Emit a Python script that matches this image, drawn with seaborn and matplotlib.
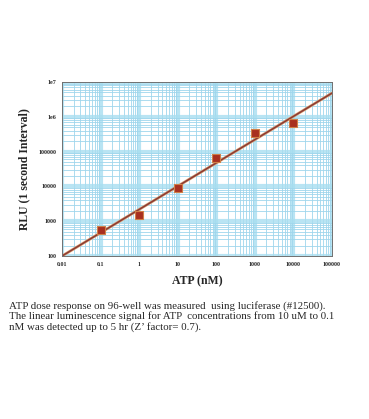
import numpy as np
import pandas as pd
import matplotlib
matplotlib.use("Agg")
import matplotlib.pyplot as plt
import matplotlib.ticker as mticker
import seaborn as sns

# Data
atp_nM = [0.1, 1, 10, 100, 1000, 10000]
rlu = [550, 1500, 9000, 65000, 350000, 680000]
fit_x = [0.01, 100000]
fit_y = [100, 4.8e6]
x_ticks = [0.01, 0.1, 1, 10, 100, 1000, 10000, 100000]
x_labels = ["0.01", "0.1", "1", "10", "100", "1000", "10000", "100000"]
y_ticks = [100, 1000, 10000, 100000, 1e6, 1e7]
y_labels = ["100", "1000", "10000", "100000", "1e6", "1e7"]
caption = ("ATP dose response on 96-well was measured  using luciferase (#12500).\n"
           "The linear luminescence signal for ATP  concentrations from 10 uM to 0.1\n"
           "nM was detected up to 5 hr (Z\u2019 factor= 0.7).")

sns.set_style("white")
plt.rcParams['font.family'] = ['Liberation Serif', 'DejaVu Serif']

fig = plt.figure(figsize=(3.69, 4.19), dpi=100)
ax = fig.add_axes([62/369, 1-256/419, 270/369, 174/419])

df_pts = pd.DataFrame({"x": atp_nM, "y": rlu})
df_fit = pd.DataFrame({"x": fit_x, "y": fit_y})

ax.set_xscale("log")
ax.set_yscale("log")
ax.set_xlim(0.01, 100000)
ax.set_ylim(100, 1e7)

ax.xaxis.set_minor_locator(mticker.LogLocator(base=10, subs=np.arange(2, 10), numticks=20))
ax.yaxis.set_minor_locator(mticker.LogLocator(base=10, subs=np.arange(2, 10), numticks=20))
ax.grid(True, which="major", color="#a8def0", linewidth=3.0, alpha=0.8)
ax.grid(True, which="minor", color="#9fd6ec", linewidth=0.6)
ax.set_axisbelow(True)

sns.lineplot(data=df_fit, x="x", y="y", ax=ax, color="#d8a070", linewidth=2.0)
sns.lineplot(data=df_fit, x="x", y="y", ax=ax, color="#8c3a34", linewidth=1.1)
sns.scatterplot(data=df_pts, x="x", y="y", ax=ax, marker="s", s=26,
                color="#a83020", edgecolor="#d08048", linewidth=0.8, zorder=5)

ax.set_xticks(x_ticks)
ax.set_xticklabels(x_labels)
ax.set_yticks(y_ticks)
ax.set_yticklabels(y_labels)
ax.tick_params(axis="both", which="major", labelsize=4.3, length=2, width=0.5, pad=2, direction="out")
ax.tick_params(axis="both", which="minor", length=1, width=0.4)
for lab in ax.get_xticklabels() + ax.get_yticklabels():
    lab.set_fontweight("bold")

ax.set_xlabel("ATP (nM)", fontsize=8.5, fontweight="bold", labelpad=6)
ax.set_ylabel("RLU (1 second Interval)", fontsize=8.5, fontweight="bold", labelpad=6)

for sp in ax.spines.values():
    sp.set_color("#707070")
    sp.set_linewidth(0.7)

fig.text(9/369, 1-301/419, caption, fontsize=7.8, va="top", ha="left", linespacing=1.1)

fig.savefig("out.png", dpi=100)
